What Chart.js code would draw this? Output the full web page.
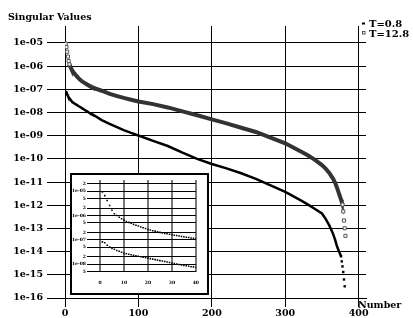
<!DOCTYPE html>
<html>
<head>
<meta charset="utf-8">
<script src="https://cdn.jsdelivr.net/npm/chart.js@4/dist/chart.umd.min.js"></script>
<style>
  body { margin: 0; background: #fff; }
  #wrap { position: relative; width: 413px; height: 318px; }
  canvas { display: block; }
  #inset { position: absolute; left: 70px; top: 173px; width: 139px; height: 122px;
           border: 2px solid #000; box-sizing: border-box; background: #fff; }
</style>
</head>
<body>
<div id="wrap">
  <canvas id="main" width="413" height="318"></canvas>
  <div id="inset"><canvas id="zoom" width="135" height="118"></canvas></div>
</div>
<script>
// singular value index (shared by both series)
const numbers = [
  1, 2, 3, 4, 5, 6, 7, 8, 9, 10, 11, 12, 13, 14, 15, 16, 17, 18, 19, 20,
  21, 22, 23, 24, 25, 26, 27, 28, 29, 30, 31, 32, 33, 34, 35, 36, 37, 38, 39, 40,
  50, 60, 70, 80, 90, 100, 120, 140, 160, 180, 200, 220, 240, 260, 280, 300,
  320, 330, 340, 350, 355, 360, 365, 368, 370, 372, 374, 375, 376, 377, 378,
  379, 380, 381, 382
];
const t08 = [
  8.3e-8, 7.6e-8, 6.0e-8, 5.1e-8, 4.5e-8, 4.1e-8, 3.7e-8, 3.4e-8, 3.1e-8, 2.8e-8,
  2.7e-8, 2.57e-8, 2.45e-8, 2.34e-8, 2.24e-8, 2.14e-8, 2.04e-8, 1.95e-8, 1.86e-8, 1.78e-8,
  1.7e-8, 1.62e-8, 1.55e-8, 1.48e-8, 1.41e-8, 1.35e-8, 1.29e-8, 1.23e-8, 1.175e-8, 1.12e-8,
  1.07e-8, 1.02e-8, 9.8e-9, 9.3e-9, 8.9e-9, 8.7e-9, 8.3e-9, 7.9e-9, 7.8e-9, 7.4e-9,
  4.7e-9, 3.3e-9, 2.4e-9, 1.74e-9, 1.32e-9, 1.02e-9, 6.0e-10, 3.6e-10, 1.86e-10, 1.0e-10,
  6.0e-11, 3.9e-11, 2.4e-11, 1.38e-11, 7.2e-12, 3.8e-12, 1.7e-12, 1.12e-12, 7.1e-13, 4.4e-13,
  2.6e-13, 1.35e-13, 6.0e-14, 3.2e-14, 1.9e-14, 1.26e-14, 8.9e-15, 7.6e-15, 6.3e-15, 3.8e-15,
  2.3e-15, 1.32e-15, 6.3e-16, 3.2e-16, null
];
const t128 = [
  9.3e-6, 6.6e-6, 4.2e-6, 2.6e-6, 1.66e-6, 1.2e-6, 1.0e-6, 8.5e-7, 7.4e-7, 6.5e-7,
  5.75e-7, 5.25e-7, 4.8e-7, 4.35e-7, 4.0e-7, 3.7e-7, 3.4e-7, 3.16e-7, 2.95e-7, 2.7e-7,
  2.57e-7, 2.4e-7, 2.3e-7, 2.14e-7, 2.04e-7, 1.95e-7, 1.86e-7, 1.78e-7, 1.7e-7, 1.62e-7,
  1.55e-7, 1.51e-7, 1.45e-7, 1.38e-7, 1.35e-7, 1.29e-7, 1.26e-7, 1.2e-7, 1.175e-7, 1.12e-7,
  8.7e-8, 6.5e-8, 5.25e-8, 4.27e-8, 3.55e-8, 3.0e-8, 2.3e-8, 1.66e-8, 1.12e-8, 7.6e-9,
  5.1e-9, 3.4e-9, 2.2e-9, 1.45e-9, 8.3e-10, 4.7e-10, 2.2e-10, 1.48e-10, 9.3e-11, 5.4e-11,
  3.8e-11, 2.5e-11, 1.41e-11, 9.3e-12, 6.3e-12, 4.2e-12, 2.7e-12, 2.2e-12, 1.74e-12, 1.38e-12,
  1.07e-12, 5.4e-13, 2.2e-13, 1.02e-13, 4.8e-14
];
const seriesLabels = ['T=0.8', 'T=12.8'];

const mainXTicks = [0, 100, 200, 300, 400];
const mainYTicks = [1e-16, 1e-15, 1e-14, 1e-13, 1e-12, 1e-11, 1e-10, 1e-9, 1e-8, 1e-7, 1e-6, 1e-5];
const mainYLabels = ['1e-16', '1e-15', '1e-14', '1e-13', '1e-12', '1e-11', '1e-10',
                     '1e-09', '1e-08', '1e-07', '1e-06', '1e-05'];
const insetXTicks = [0, 10, 20, 30, 40];
const insetYTicks = [5e-9, 1e-8, 2e-8, 5e-8, 1e-7, 2e-7, 5e-7, 1e-6, 2e-6, 5e-6, 1e-5, 2e-5];
const insetYLabels = ['5', '1e-08', '2', '5', '1e-07', '2', '5', '1e-06', '2', '5', '1e-05', '2'];
const yTitle = 'Singular Values';
const xTitle = 'Number';

const serif = 'DejaVu Serif';
const font = { family: serif, size: 9.5, weight: 'bold' };
const tiny = { family: serif, size: 4.5, weight: 'bold' };

function toPoints(vals, maxX) {
  return numbers.map((x, i) => ({ x: x, y: vals[i] })).filter(p => p.x <= maxX);
}

// consecutive indices that are far apart on screen are drawn as separate markers
function farStep(chart, dsIndex, i, k) {
  const pts = chart.data.datasets[dsIndex].data;
  const a = pts[i], b = pts[k];
  if (!a || !b || a.y == null || b.y == null || b.x - a.x !== 1) return false;
  const sx = chart.scales.x, sy = chart.scales.y;
  const dx = sx.getPixelForValue(b.x) - sx.getPixelForValue(a.x);
  const dy = sy.getPixelForValue(b.y) - sy.getPixelForValue(a.y);
  return Math.hypot(dx, dy) > 3;
}
function markerRadius(r) {
  return ctx => (farStep(ctx.chart, ctx.datasetIndex, ctx.dataIndex - 1, ctx.dataIndex) ||
                 farStep(ctx.chart, ctx.datasetIndex, ctx.dataIndex, ctx.dataIndex + 1)) ? r : 0;
}
function segColor(color) {
  return ctx => farStep(ctx.chart, ctx.datasetIndex, ctx.p0DataIndex, ctx.p1DataIndex) ? 'transparent' : color;
}

const texts = {
  id: 'texts',
  afterDraw(chart) {
    const c = chart.ctx;
    c.save();
    c.fillStyle = '#000';
    c.font = 'bold 9.5px "DejaVu Serif"';
    c.fillText(yTitle, 8, 19.5);
    c.fillText(xTitle, 358, 308);
    c.font = 'bold 10px "DejaVu Serif"';
    c.fillText(seriesLabels[0], 369, 27);
    c.fillText(seriesLabels[1], 369, 36.5);
    c.fillRect(362, 22.5, 3, 2);
    c.strokeStyle = '#555';
    c.lineWidth = 1;
    c.strokeRect(362.5, 31.5, 2.5, 2.5);
    c.restore();
  }
};

new Chart(document.getElementById('main'), {
  type: 'line',
  data: {
    datasets: [
      {
        label: seriesLabels[0],
        data: toPoints(t08, Infinity),
        borderColor: '#000',
        borderWidth: 2.5,
        tension: 0,
        pointStyle: 'rect',
        pointRadius: markerRadius(1.7),
        pointBackgroundColor: '#000',
        pointBorderWidth: 0,
        segment: { borderColor: segColor('#000') }
      },
      {
        label: seriesLabels[1],
        data: toPoints(t128, Infinity),
        borderColor: '#333',
        borderWidth: 4,
        tension: 0,
        pointStyle: 'rect',
        pointRadius: markerRadius(2.2),
        pointBackgroundColor: '#fff',
        pointBorderColor: '#555',
        pointBorderWidth: 1,
        segment: { borderColor: segColor('#333') }
      }
    ]
  },
  options: {
    responsive: false,
    animation: false,
    events: [],
    layout: { padding: { top: 26, right: 47, left: 0, bottom: 0 } },
    plugins: { legend: { display: false }, tooltip: { enabled: false } },
    scales: {
      x: {
        type: 'linear', min: 0, max: 410,
        afterBuildTicks: s => { s.ticks = mainXTicks.map(v => ({ value: v })); },
        afterFit: s => { s.height = 20; },
        grid: { color: '#000', lineWidth: 1, tickLength: 9 },
        border: { color: '#000' },
        ticks: { font: font, color: '#000', padding: 1, maxRotation: 0, autoSkip: false,
                 callback: v => String(v) }
      },
      y: {
        type: 'logarithmic', min: 1e-16, max: 5.4e-5,
        afterBuildTicks: s => { s.ticks = mainYTicks.map(v => ({ value: v })); },
        afterFit: s => { s.width = 65; },
        grid: { color: '#000', lineWidth: 1, tickLength: 18 },
        border: { color: '#000' },
        ticks: { font: font, color: '#000', padding: 4, autoSkip: false,
                 callback: (v, i) => mainYLabels[i] }
      }
    }
  },
  plugins: [texts]
});

new Chart(document.getElementById('zoom'), {
  type: 'line',
  data: {
    datasets: [
      { label: seriesLabels[0], data: toPoints(t08, 40), showLine: false,
        pointStyle: 'rect', pointRadius: 1.1, pointBackgroundColor: '#000', pointBorderWidth: 0 },
      { label: seriesLabels[1], data: toPoints(t128, 40), showLine: false,
        pointStyle: 'rect', pointRadius: 1.1, pointBackgroundColor: '#000', pointBorderWidth: 0 }
    ]
  },
  options: {
    responsive: false,
    animation: false,
    events: [],
    layout: { padding: { top: 5, right: 10, left: 0, bottom: 0 } },
    plugins: { legend: { display: false }, tooltip: { enabled: false } },
    scales: {
      x: {
        type: 'linear', min: 0, max: 40,
        afterBuildTicks: s => { s.ticks = insetXTicks.map(v => ({ value: v })); },
        afterFit: s => { s.height = 21; },
        grid: { color: '#777', lineWidth: 2, drawTicks: false },
        border: { display: false },
        ticks: { font: tiny, color: '#000', padding: 8, maxRotation: 0, autoSkip: false,
                 callback: v => String(v) }
      },
      y: {
        type: 'logarithmic', min: 4.8e-9, max: 2.9e-5,
        afterBuildTicks: s => { s.ticks = insetYTicks.map(v => ({ value: v })); },
        afterFit: s => { s.width = 28; },
        grid: { color: '#000', lineWidth: 1, tickLength: 13 },
        border: { display: false },
        ticks: { font: tiny, color: '#000', padding: 1, autoSkip: false,
                 callback: (v, i) => insetYLabels[i] }
      }
    }
  }
});
</script>
</body>
</html>
